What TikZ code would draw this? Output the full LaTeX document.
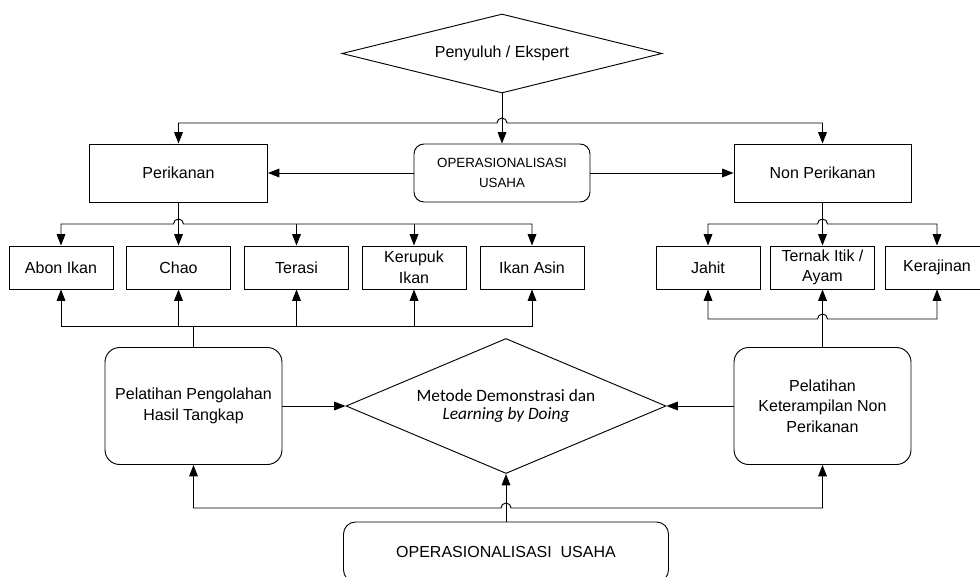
\documentclass[tikz,border=0pt]{standalone}
\usepackage{fontspec}
\setmainfont{Liberation Sans}
\newfontfamily\carlito{Carlito}
\usetikzlibrary{positioning,arrows.meta,shapes.geometric}

\begin{document}
\begin{tikzpicture}[x=0.75pt,y=-0.75pt,>={Triangle[length=8.5pt,width=6.5pt]},line width=0.7pt,
  kotak/.style={draw,align=center,inner sep=1pt,font=\fontsize{12}{15.5}\selectfont},
  kecil/.style={kotak,minimum width=78pt,minimum height=32.25pt},
  bulat/.style={kotak,rounded corners=11pt,minimum width=132.75pt,minimum height=87.75pt},
  wajik/.style={draw,diamond,align=center,inner sep=1pt,minimum width=240pt}]
\useasboundingbox (0,0) rectangle (980,577);
\node[wajik,aspect=4,minimum height=59.25pt,font=\fontsize{12}{15}\selectfont] (ahli) at (502,53.5) {Penyuluh / Ekspert};
\node[kotak,rounded corners=7.5pt,minimum width=132pt,minimum height=43.5pt,font=\fontsize{10}{14.5}\selectfont] (ops) at (502,173) {OPERASIONALISASI\\USAHA};
\node[kotak,minimum width=133.5pt,minimum height=43.5pt] (ikan) at (178.5,173) {Perikanan};
\node[kotak,minimum width=132.75pt,minimum height=43.5pt] (nonikan) at (822.5,173) {Non Perikanan};
\node[kecil] (abon) at (61,267.5) {Abon Ikan};
\node[kecil] (chao) at (178.5,267.5) {Chao};
\node[kecil] (terasi) at (296.5,267.5) {Terasi};
\node[kecil] (kerupuk) at (414,267.5) {Kerupuk\\Ikan};
\node[kecil] (asin) at (532,267.5) {Ikan Asin};
\node[kecil] (jahit) at (708,267.5) {Jahit};
\node[kecil] (ternak) at (822.5,267.5) {Ternak Itik /\\Ayam};
\node[kecil] (rajin) at (937,267.5) {Kerajinan};
\node[bulat] (latihA) at (193.5,406) {Pelatihan Pengolahan\\Hasil Tangkap};
\node[bulat] (latihB) at (822.5,406) {Pelatihan\\Keterampilan Non\\Perikanan};
\node[wajik,aspect=2.37,minimum height=101.25pt,font=\carlito\fontsize{13}{13.5}\selectfont] (metode) at (506,406) {Metode Demonstrasi dan\\\textit{Learning by Doing}};
\node[kotak,rounded corners=9pt,minimum width=243.75pt,minimum height=45pt] (opsb) at (506,552) {OPERASIONALISASI\ \ USAHA};

\coordinate (busA) at (0,224);
\coordinate (busB) at (0,326);
\coordinate (hop1) at (497,123);
\coordinate (hop2) at (173.5,224);
\coordinate (hop3) at (817.5,224);
\coordinate (hop4) at (817.5,319);
\coordinate (hop5) at (501,508);

\draw[->] (ahli.south) -- (ops.north);
\draw[<->] (ikan.north) |- (hop1) arc[start angle=180,end angle=0,radius=3.75pt] -| (nonikan.north);
\draw[->] (ops.west) -- (ikan.east);
\draw[->] (ops.east) -- (nonikan.west);

\draw[->] (ikan.south) -- (chao.north);
\draw[<->] (abon.north) |- (hop2) arc[start angle=180,end angle=0,radius=3.75pt] -| (asin.north);
\draw[->] (busA -| terasi.north) -- (terasi.north);
\draw[->] (busA -| kerupuk.north) -- (kerupuk.north);

\draw[->] (nonikan.south) -- (ternak.north);
\draw[<->] (jahit.north) |- (hop3) arc[start angle=180,end angle=0,radius=3.75pt] -| (rajin.north);

\draw[<->] (abon.south) |- (busB -| asin.south) -- (asin.south);
\draw[->] (busB -| chao.south) -- (chao.south);
\draw[->] (busB -| terasi.south) -- (terasi.south);
\draw[->] (busB -| kerupuk.south) -- (kerupuk.south);
\draw (latihA.north) -- (busB -| latihA.north);

\draw[->] (latihB.north) -- (ternak.south);
\draw[<->] (jahit.south) |- (hop4) arc[start angle=180,end angle=0,radius=3.75pt] -| (rajin.south);

\draw[->] (latihA.east) -- (metode.west);
\draw[->] (latihB.west) -- (metode.east);
\draw[->] (opsb.north) -- (metode.south);
\draw[<->] (latihA.south) |- (hop5) arc[start angle=180,end angle=0,radius=3.75pt] -| (latihB.south);
\end{tikzpicture}
\end{document}
